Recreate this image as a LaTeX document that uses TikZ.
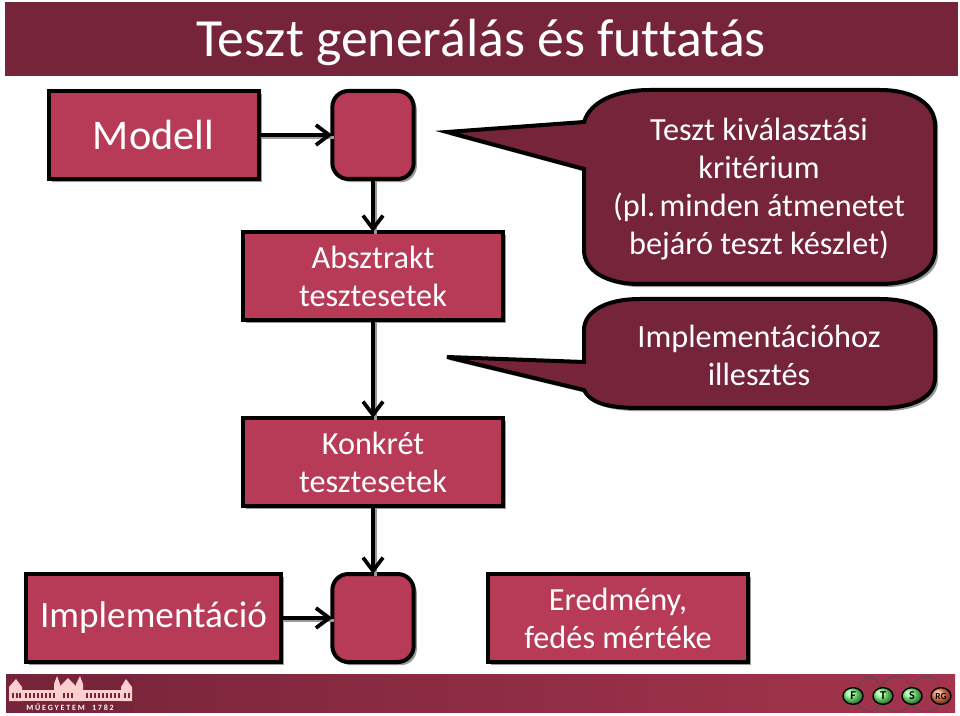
\documentclass[tikz,border=0pt]{standalone}
\usepackage{fontspec}
\setmainfont[RawFeature=-liga]{Carlito}
\usetikzlibrary{arrows.meta,shadows,shapes.geometric}
\definecolor{darkred}{HTML}{762439}
\definecolor{midred}{HTML}{B73A56}
\definecolor{shade}{HTML}{9A9A9A}
\tikzset{
  x=0.75pt,y=-0.75pt,
  every node/.style={inner sep=0pt,outer sep=0pt,align=center,text=black},
  boxbase/.style={draw=black,line width=3pt,fill=midred,text=white,anchor=center,
     general shadow={shadow xshift=2.4pt,shadow yshift=-2.4pt,fill=shade,draw=none}},
  flatbox/.style={boxbase},
  roundbox/.style={boxbase,rounded corners=12pt},
  lbl/.style={text=white,font=\fontsize{24.2}{28.5}\selectfont},
  conn/.style={draw=black,line width=2.8pt,-{Straight Barb[length=10pt,width=15pt,line width=2.8pt]},
     preaction={draw=shade,line width=2.2pt,transform canvas={xshift=1.6pt,yshift=-1.6pt},arrows=-}},
  balloon/.style={draw=black,line width=3pt,fill=darkred,line join=miter,
     general shadow={shadow xshift=2.4pt,shadow yshift=-2.4pt,fill=shade,draw=none}},
  ftsball/.style={ellipse,draw=black,line width=1pt,ball color=green!50!white,minimum width=15pt,minimum height=12.5pt,
     font=\bfseries\fontsize{9}{9}\selectfont,text=black},
}
\begin{document}
\begin{tikzpicture}
\useasboundingbox (0,0) rectangle (960,716);
\fill[white] (0,0) rectangle (960,716);
% title bar
\fill[darkred] (5,2) rectangle (958,76);
\node[text=white,font=\fontsize{40.3}{44}\selectfont] (title) at (481,42) {Teszt generálás és futtatás};
% footer
\shade[left color=darkred,right color=midred!90!black] (6,674) rectangle (955,712);
% boxes
\node[flatbox,minimum width=157.5pt,minimum height=66pt,lbl,font=\fontsize{31.7}{36}\selectfont] (modell) at (153.5,135) {\raisebox{-0.8pt}{Modell}};
\node[roundbox,minimum width=61pt,minimum height=66pt] (gen) at (373,135) {};
\node[flatbox,minimum width=195pt,minimum height=66pt,lbl] (abs) at (373,276) {Absztrakt\\tesztesetek};
\node[flatbox,minimum width=195pt,minimum height=66pt,lbl] (konk) at (373,462) {Konkrét\\tesztesetek};
\node[flatbox,minimum width=191pt,minimum height=66pt,lbl,font=\fontsize{27.9}{32}\selectfont] (impl) at (153.5,618) {\raisebox{-1.5pt}{Implementáció}};
\node[roundbox,minimum width=61pt,minimum height=66pt] (run) at (373,618) {};
\node[flatbox,minimum width=195pt,minimum height=66pt,lbl] (ered) at (618,618) {Eredmény,\\fedés mértéke};
% connectors
\draw[conn] (modell) -- (gen);
\draw[conn] (gen) -- (abs);
\draw[conn] (abs) -- (konk);
\draw[conn] (konk) -- (run);
\draw[conn] (impl) -- (run);
% balloons
\path[balloon] (584,122) .. controls (590,102) and (615,90) .. (650,90) -- (880,90)
  .. controls (915,90) and (935,105) .. (935,125) -- (935,250)
  .. controls (935,270) and (915,284) .. (880,284) -- (640,284)
  .. controls (605,284) and (584,270) .. (584,250) -- (584,169) -- (447,132) -- cycle;
\node[lbl] (t1) at (759,189.5) {Teszt kiválasztási\\kritérium\\(pl.\hspace{-4pt} minden átmenetet\\bejáró teszt készlet)};
\path[balloon] (584,362) -- (584,330) .. controls (584,312) and (605,299) .. (640,299) -- (880,299)
  .. controls (915,299) and (935,312) .. (935,330) -- (935,378)
  .. controls (935,396) and (915,408) .. (880,408) -- (640,408)
  .. controls (605,408) and (590,402) .. (584,390) -- (447,357) -- cycle;
\node[lbl] (t2) at (759,355) {Implementációhoz\\illesztés};
% BME logo
\fill[darkred] (7,676) rectangle (133,711);
\begin{scope}[fill=pink!75!white]
\fill (9,701) -- (9,687) -- (16,679) -- (22,687) -- (22,701) -- cycle;
\fill (22,690) rectangle (55,701);
\fill (54,701) -- (54,684) -- (57,676) -- (60,684) -- (60,701) -- cycle;
\fill (60,686) -- (68,678) -- (76,686) -- (76,701) -- (60,701) -- cycle;
\fill (76,701) -- (76,684) -- (80,676) -- (83,684) -- (83,701) -- cycle;
\fill (83,690) rectangle (122,701);
\fill (121,701) -- (121,687) -- (126,679) -- (132,687) -- (132,701) -- cycle;
\end{scope}
\foreach \xx in {12,16,19,25,29,...,53,63,67,71,86,90,...,118,124,128}{\fill[darkred] (\xx,693) rectangle +(2,5);}
\node[text=white,font=\bfseries\fontsize{6}{6}\selectfont] (bme) at (70,707) {M Ű E G Y E T E M \ \ \ 1 7 8 2};
% FTS logo
\draw[black!70,line width=.5pt] (858,688) .. controls (865,672) and (875,672) .. (880,688)
  .. controls (890,672) and (905,672) .. (910,688) .. controls (920,672) and (935,672) .. (940,688);
\draw[black!70,line width=.5pt] (858,704) .. controls (865,714) and (875,714) .. (880,704)
  .. controls (890,714) and (905,714) .. (910,704) .. controls (920,714) and (935,714) .. (940,704);
\node[ftsball] (f) at (853,696) {F};
\node[ftsball] (t) at (883,696) {T};
\node[ftsball] (s) at (912,696) {S};
\node[ftsball,ball color=orange!60!red!70!white,font=\bfseries\fontsize{7}{7}\selectfont] (rg) at (941,696) {RG};
\end{tikzpicture}
\end{document}
